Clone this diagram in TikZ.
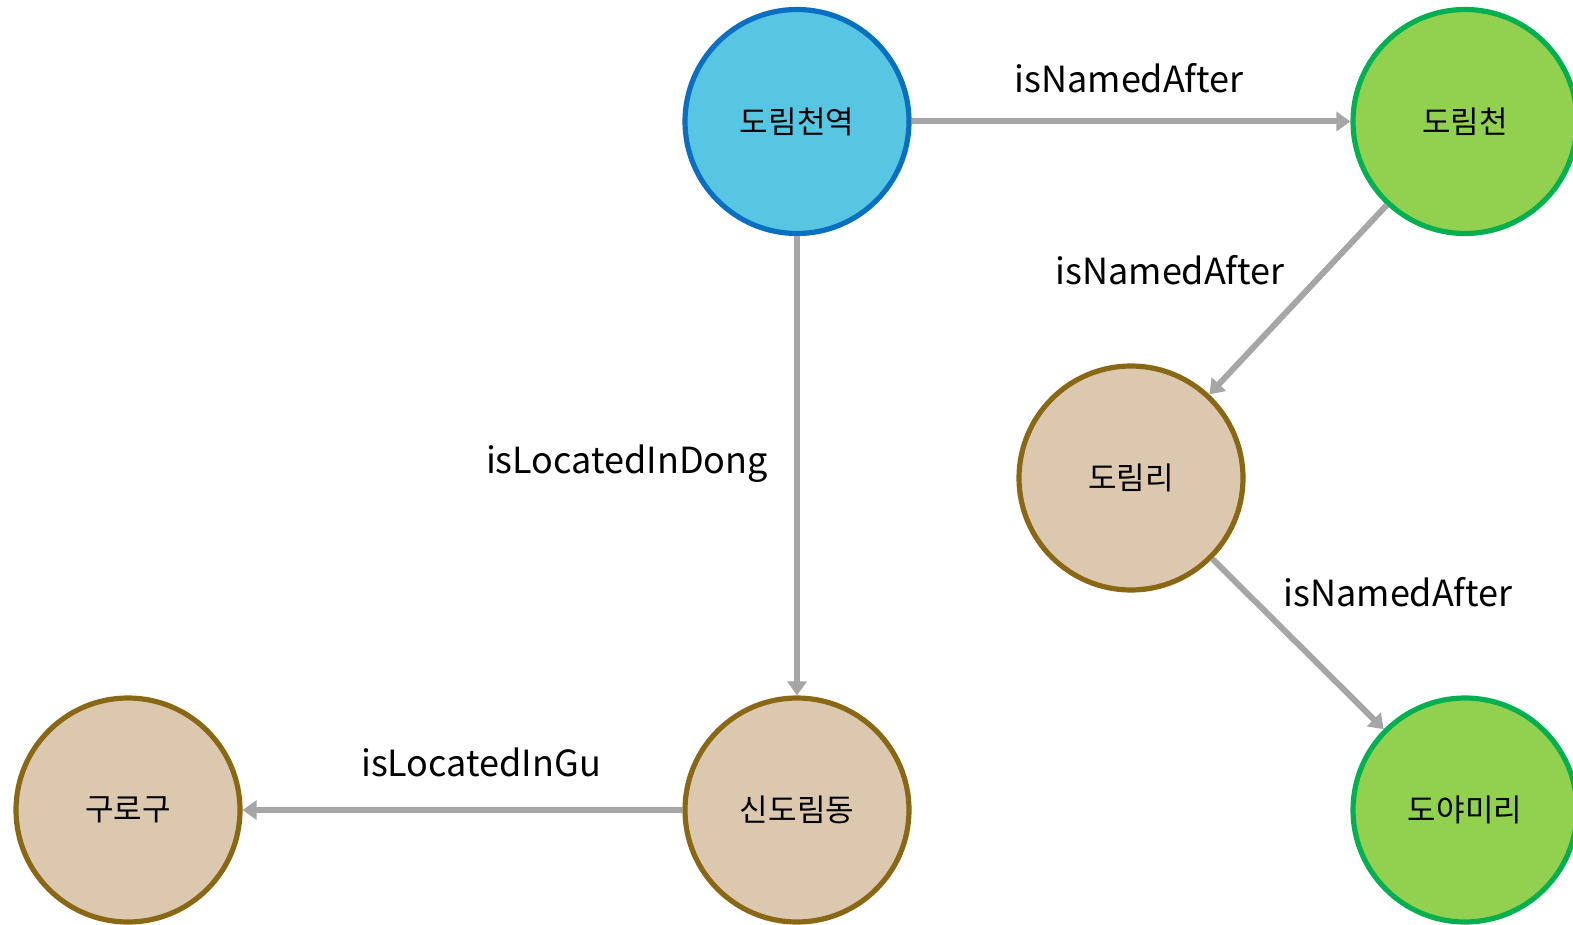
\documentclass[tikz,border=0pt]{standalone}
\usepackage{fontspec}
\setmainfont{Noto Sans CJK KR}
\usetikzlibrary{arrows.meta}
\definecolor{bluefill}{HTML}{57C6E3}
\definecolor{blueline}{HTML}{0A6FC0}
\definecolor{greenfill}{HTML}{92D050}
\definecolor{greenline}{HTML}{00B050}
\definecolor{tanfill}{HTML}{DBC8AF}
\definecolor{tanline}{HTML}{8A6714}
\definecolor{edgegray}{HTML}{A6A6A6}
\tikzset{
  ent/.style={circle, line width=2.6pt, minimum size=112pt, inner sep=0pt, font=\fontsize{15.5pt}{18pt}\selectfont},
  bluenode/.style={ent, draw=blueline, fill=bluefill},
  greennode/.style={ent, draw=greenline, fill=greenfill},
  tannode/.style={ent, draw=tanline, fill=tanfill},
  rel/.style={draw=edgegray, line width=3pt, -{Triangle[length=7pt,width=9.5pt]}},
  rellabel/.style={font=\fontsize{18pt}{21pt}\selectfont, inner sep=0pt}
}
\begin{document}
\begin{tikzpicture}[x=0.5pt,y=-0.5pt]
\useasboundingbox (0,0) rectangle (1573,925);
\node[bluenode]  (A) at (797,121.5) {도림천역};
\node[greennode] (B) at (1465,121.5) {도림천};
\node[tannode]   (C) at (1131,478) {도림리};
\node[greennode] (D) at (1465,810) {도야미리};
\node[tannode]   (E) at (797,810) {신도림동};
\node[tannode]   (F) at (128,810) {구로구};
\draw[rel] (A) -- (B);
\draw[rel] (B) -- (C);
\draw[rel] (C) -- (D);
\draw[rel] (A) -- (E);
\draw[rel] (E) -- (F);
\node[rellabel] (l1) at (1129,78) {isNamedAfter};
\node[rellabel] (l2) at (1170,270) {isNamedAfter};
\node[rellabel] (l3) at (1398,592) {isNamedAfter};
\node[rellabel] (l4) at (627,464) {isLocatedInDong};
\node[rellabel] (l5) at (481,762) {isLocatedInGu};
\end{tikzpicture}
\end{document}
